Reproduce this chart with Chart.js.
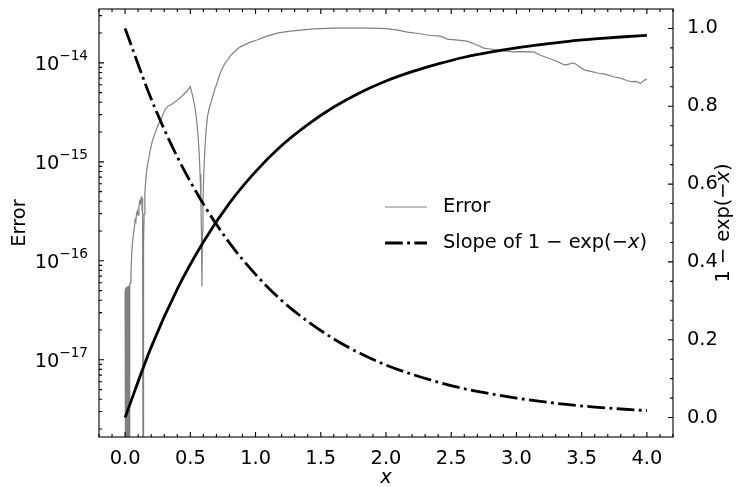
<!DOCTYPE html>
<html>
<head>
<meta charset="utf-8">
<script src="https://cdn.jsdelivr.net/npm/chart.js@4.4.0/dist/chart.umd.min.js"></script>
<style>
  body { margin: 0; background: #fff; }
</style>
</head>
<body>
<canvas id="chart" width="737" height="487"></canvas>
<script>
// smooth curves, right axis
const curveX = [0, 0.2, 0.4, 0.6, 0.8, 1.0, 1.2, 1.4, 1.6, 1.8, 2.0, 2.2, 2.4, 2.6, 2.8, 3.0, 3.2, 3.4, 3.6, 3.8, 4.0];
const oneMinusExp = [0, 0.181, 0.330, 0.451, 0.551, 0.632, 0.699, 0.753, 0.798, 0.835, 0.865, 0.889, 0.909, 0.926, 0.939, 0.950, 0.959, 0.967, 0.973, 0.978, 0.982];
const slopeVals = [1.0, 0.819, 0.670, 0.549, 0.449, 0.368, 0.301, 0.247, 0.202, 0.165, 0.135, 0.111, 0.091, 0.074, 0.061, 0.050, 0.041, 0.033, 0.027, 0.022, 0.018];

// error curve, left log axis (1e-19 = dropped to zero, off the bottom)
const errX = [0.000, 0.003, 0.006, 0.009, 0.012, 0.015, 0.018, 0.021, 0.024, 0.027, 0.030, 0.034, 0.037, 0.040,
  0.045, 0.051, 0.058, 0.065, 0.072, 0.077, 0.082, 0.088, 0.094, 0.100, 0.106, 0.112, 0.118, 0.124, 0.128,
  0.131, 0.134, 0.138, 0.141, 0.142, 0.146, 0.152, 0.160, 0.170, 0.180, 0.192, 0.21, 0.23, 0.25, 0.269,
  0.29, 0.307, 0.33, 0.369, 0.40, 0.435, 0.47, 0.499,
  0.515, 0.53, 0.545, 0.557, 0.567, 0.575, 0.581, 0.585, 0.589, 0.593, 0.597, 0.603, 0.61, 0.62, 0.632,
  0.648, 0.666, 0.685, 0.704, 0.722, 0.74, 0.76, 0.781, 0.81, 0.85, 0.883, 0.95, 1.011, 1.08, 1.165, 1.25, 1.344, 1.45,
  1.597, 1.727, 1.8, 1.904, 2.0, 2.08, 2.165, 2.25, 2.33, 2.418, 2.47, 2.55, 2.62, 2.68, 2.75, 2.8,
  2.85, 2.92, 2.98, 3.05, 3.13, 3.18, 3.24, 3.3, 3.37, 3.44, 3.48, 3.52, 3.57, 3.62, 3.68, 3.75, 3.8,
  3.85, 3.88, 3.92, 3.95, 3.98, 4.0];
const errY = [5.0e-17, 1e-19, 5.3e-17, 1e-19, 5.5e-17, 1e-19, 5.4e-17, 1e-19, 5.6e-17, 1e-19, 5.5e-17, 1e-19, 5.8e-17, 6.0e-17,
  7.5e-17, 1.2e-16, 1.6e-16, 1.9e-16, 2.2e-16, 2.6e-16, 2.5e-16, 3.0e-16, 3.2e-16, 2.9e-16, 3.6e-16, 4.0e-16, 3.8e-16, 4.4e-16, 4.5e-16,
  3.2e-16, 4.3e-16, 1e-19, 1e-19, 1.5e-16, 3.0e-16, 5.0e-16, 7.0e-16, 9.0e-16, 1.05e-15, 1.3e-15, 1.65e-15, 1.95e-15, 2.3e-15, 2.6e-15,
  3.0e-15, 3.4e-15, 3.65e-15, 3.9e-15, 4.2e-15, 4.6e-15, 5.1e-15, 5.75e-15,
  4.8e-15, 3.9e-15, 2.9e-15, 2.0e-15, 1.3e-15, 7.5e-16, 4.0e-16, 2.0e-16, 5.5e-17, 2.0e-16, 4.0e-16, 7.5e-16, 1.25e-15, 2.0e-15, 2.9e-15,
  3.6e-15, 4.3e-15, 5.3e-15, 6.2e-15, 7.4e-15, 8.5e-15, 9.6e-15, 1.05e-14, 1.19e-14, 1.34e-14, 1.45e-14, 1.6e-14, 1.7e-14, 1.85e-14, 2.0e-14, 2.08e-14, 2.14e-14, 2.2e-14,
  2.24e-14, 2.24e-14, 2.25e-14, 2.24e-14, 2.22e-14, 2.15e-14, 2.04e-14, 1.98e-14, 1.9e-14, 1.86e-14, 1.74e-14, 1.7e-14, 1.66e-14, 1.55e-14, 1.41e-14, 1.38e-14,
  1.35e-14, 1.31e-14, 1.29e-14, 1.3e-14, 1.29e-14, 1.2e-14, 1.12e-14, 1.05e-14, 9.5e-15, 1.0e-14, 9.2e-15, 8.5e-15, 8.2e-15, 7.9e-15, 7.7e-15, 7.2e-15, 7.0e-15,
  6.6e-15, 6.45e-15, 6.5e-15, 6.2e-15, 6.7e-15, 6.8e-15];

// tick labels
const xTicks = [0, 0.5, 1.0, 1.5, 2.0, 2.5, 3.0, 3.5, 4.0];
const errTicks = [1e-17, 1e-16, 1e-15, 1e-14];
const errTickExp = ['−17', '−16', '−15', '−14'];
const rightTicks = [0, 0.2, 0.4, 0.6, 0.8, 1.0];

const FONT = '"DejaVu Sans", sans-serif';
const fontSize = 19.4;
const supSize = 13.6;

// draw text pieces, some italic, left to right from (x, y)
function drawParts(ctx, parts, x, y) {
  let cx = x;
  parts.forEach(([t, italic]) => {
    ctx.font = (italic ? 'italic ' : '') + fontSize + 'px ' + FONT;
    ctx.fillText(t, cx, y);
    cx += ctx.measureText(t).width;
  });
}
function partsWidth(ctx, parts) {
  let w = 0;
  parts.forEach(([t, italic]) => {
    ctx.font = (italic ? 'italic ' : '') + fontSize + 'px ' + FONT;
    w += ctx.measureText(t).width;
  });
  return w;
}

// no extra room for overflowing end labels, the plot box is fixed
function fixBox(s, size) {
  if (s.isHorizontal()) s.height = size; else s.width = size;
  s.paddingTop = 0; s.paddingBottom = 0; s.paddingLeft = 0; s.paddingRight = 0;
}

// matplotlib style ticks pointing in, plus the box
const innerTicks = {
  id: 'innerTicks',
  afterDatasetsDraw(chart) {
    const { ctx, chartArea: a, scales } = chart;
    ctx.save();
    ctx.strokeStyle = '#000';
    ctx.lineWidth = 1.1;
    ctx.beginPath();
    for (let i = -2; i <= 42; i++) {
      const px = scales.x.getPixelForValue(i / 10);
      const len = i % 5 === 0 ? 5 : 3;
      ctx.moveTo(px, a.bottom); ctx.lineTo(px, a.bottom - len);
      ctx.moveTo(px, a.top); ctx.lineTo(px, a.top + len);
    }
    for (let e = -18; e <= -14; e++) {
      for (let k = 1; k <= 9; k++) {
        const v = Number(k + 'e' + e);
        if (v < scales.y.min || v > scales.y.max) continue;
        const py = scales.y.getPixelForValue(v);
        ctx.moveTo(a.left, py); ctx.lineTo(a.left + (k === 1 ? 5 : 3), py);
      }
    }
    for (let i = 0; i <= 20; i++) {
      const py = scales.y2.getPixelForValue(i * 0.05);
      ctx.moveTo(a.right, py); ctx.lineTo(a.right - (i % 4 === 0 ? 5 : 3), py);
    }
    ctx.stroke();
    ctx.strokeRect(a.left, a.top, a.width, a.height);
    ctx.restore();
  }
};

// log labels as 10 with raised exponent, the legend (no frame) and the right axis title
const textBits = {
  id: 'textBits',
  afterDraw(chart) {
    const ctx = chart.ctx;
    const ds = chart.data.datasets;
    const a = chart.chartArea;
    ctx.save();
    ctx.fillStyle = '#000';

    ctx.textBaseline = 'alphabetic';
    errTicks.forEach((v, i) => {
      const py = chart.scales.y.getPixelForValue(v);
      ctx.font = supSize + 'px ' + FONT;
      const ws = ctx.measureText(errTickExp[i]).width;
      ctx.fillText(errTickExp[i], a.left - 11 - ws, py - 2.5);
      ctx.font = fontSize + 'px ' + FONT;
      const wm = ctx.measureText('10').width;
      ctx.fillText('10', a.left - 11 - ws - wm, py + 7.5);
    });

    ctx.textBaseline = 'middle';
    const rows = [[ds[0], 207, [['Error', false]]],
                  [ds[1], 243, [['Slope of 1 − exp(−', false], ['x', true], [')', false]]]];
    rows.forEach(([d, y, parts]) => {
      ctx.beginPath();
      ctx.strokeStyle = d.borderColor;
      ctx.lineWidth = d.borderWidth;
      ctx.setLineDash(d.borderDash || []);
      ctx.moveTo(385, y); ctx.lineTo(427, y);
      ctx.stroke();
      ctx.setLineDash([]);
      drawParts(ctx, parts, 443, y);
    });

    const title = [['1 − exp(−', false], ['x', true], [')', false]];
    const w = partsWidth(ctx, title);
    ctx.translate(729, (a.top + a.bottom) / 2);
    ctx.rotate(-Math.PI / 2);
    ctx.textBaseline = 'alphabetic';
    drawParts(ctx, title, -w / 2, 0);
    ctx.restore();
  }
};

const tickFont = { family: FONT, size: fontSize };

new Chart(document.getElementById('chart').getContext('2d'), {
  type: 'line',
  data: {
    datasets: [
      {
        label: 'Error',
        data: errX.map((x, i) => ({ x: x, y: errY[i] })),
        yAxisID: 'y',
        borderColor: 'gray',
        borderWidth: 1.2,
        pointRadius: 0,
        tension: 0,
        order: 3
      },
      {
        label: 'Slope of 1 − exp(−x)',
        data: curveX.map((x, i) => ({ x: x, y: slopeVals[i] })),
        yAxisID: 'y2',
        borderColor: '#000',
        borderWidth: 2.8,
        borderDash: [17.8, 4.4, 2.8, 4.4],
        pointRadius: 0,
        cubicInterpolationMode: 'monotone',
        order: 2
      },
      {
        label: '1 − exp(−x)',
        data: curveX.map((x, i) => ({ x: x, y: oneMinusExp[i] })),
        yAxisID: 'y2',
        borderColor: '#000',
        borderWidth: 2.8,
        pointRadius: 0,
        cubicInterpolationMode: 'monotone',
        order: 1
      }
    ]
  },
  options: {
    responsive: false,
    animation: false,
    layout: { padding: { top: 9, left: 0, right: 0, bottom: 0 } },
    plugins: { legend: { display: false }, tooltip: { enabled: false } },
    scales: {
      x: {
        type: 'linear',
        min: -0.2,
        max: 4.2,
        afterBuildTicks: s => { s.ticks = xTicks.map(v => ({ value: v })); },
        afterFit: s => fixBox(s, 50),
        ticks: { callback: v => v.toFixed(1), font: tickFont, color: '#000', padding: 2, maxRotation: 0, autoSkip: false },
        grid: { display: false },
        border: { display: false },
        title: { display: true, text: 'x', color: '#000', font: { family: FONT, size: fontSize, style: 'italic' }, padding: { top: 0, bottom: -3 } }
      },
      y: {
        type: 'logarithmic',
        position: 'left',
        min: 1.66e-18,
        max: 3.5e-14,
        afterBuildTicks: s => { s.ticks = errTicks.map(v => ({ value: v })); },
        afterFit: s => fixBox(s, 99),
        ticks: { display: false },
        grid: { display: false },
        border: { display: false },
        title: { display: true, text: 'Error', color: '#000', font: tickFont, padding: { top: 8, bottom: 0 } }
      },
      y2: {
        type: 'linear',
        position: 'right',
        min: -0.05,
        max: 1.05,
        afterBuildTicks: s => { s.ticks = rightTicks.map(v => ({ value: v })); },
        afterFit: s => fixBox(s, 64),
        ticks: { callback: v => v.toFixed(1), font: tickFont, color: '#000', padding: 6, autoSkip: false },
        grid: { display: false },
        border: { display: false }
      }
    }
  },
  plugins: [innerTicks, textBits]
});
</script>
</body>
</html>
